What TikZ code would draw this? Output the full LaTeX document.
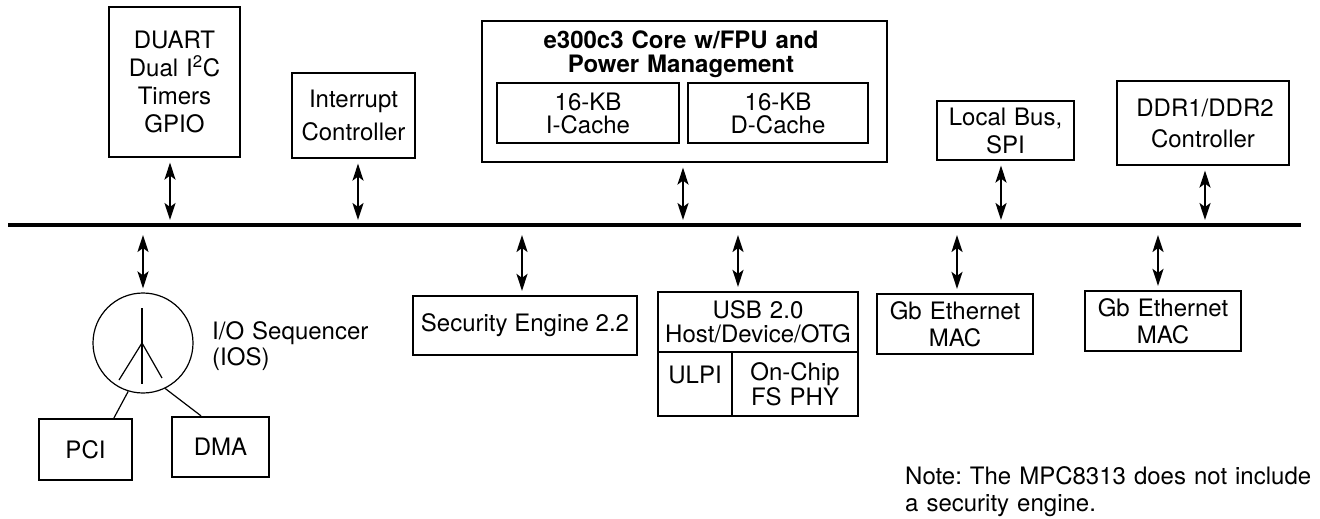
\documentclass[tikz,border=0pt]{standalone}
\usepackage{fontspec}
\setmainfont{TeX Gyre Heros}
\usetikzlibrary{arrows.meta}
\frenchspacing

\tikzset{
  blk/.style={draw, line width=2.2pt, inner sep=0pt, align=center},
  twotip/.style={{Stealth[length=17pt, width=11pt, inset=4pt]}-{Stealth[length=17pt, width=11pt, inset=4pt]}},
  uplink/.style={twotip, line width=2.2pt, shorten <=4.5pt, shorten >=5pt},
  downlink/.style={twotip, line width=2.2pt, shorten <=10pt, shorten >=4pt},
  thin/.style={line width=1.2pt}
}

\begin{document}
\begin{tikzpicture}[x=1pt, y=-1pt, font=\fontsize{24}{27}\selectfont]
  \useasboundingbox (0,0) rectangle (1320,519);

  % system bus
  \coordinate (busL) at (8,225);
  \coordinate (busR) at (1301,225);
  \draw[line width=4.8pt] (busL) -- (busR);

  % blocks above the bus
  \node[blk, minimum width=131pt, minimum height=150pt, text width=131pt,
    font=\fontsize{24}{28}\selectfont] (duart) at (174.5,82)
    {DUART\\Dual I\textsuperscript{2}C\\Timers\\GPIO};
  \node[blk, minimum width=123pt, minimum height=85pt, text width=123pt,
    font=\fontsize{24}{33}\selectfont] (intr) at (353.5,115.5)
    {Interrupt\\Controller};

  \node[blk, minimum width=405pt, minimum height=141pt] (core) at (684.5,91.5) {};
  \node[align=center, inner sep=0pt, text width=400pt,
    font=\fontsize{24}{23.5}\selectfont\bfseries]
    (coretitle) at (681,54) {e300c3 Core w/FPU and\\Power Management};
  \node[blk, minimum width=182pt, minimum height=60pt, text width=182pt,
    font=\fontsize{24}{23}\selectfont] (icache) at (588,113) {16-KB\\I-Cache};
  \node[blk, minimum width=180pt, minimum height=60pt, text width=180pt,
    font=\fontsize{24}{23}\selectfont] (dcache) at (778,113) {16-KB\\D-Cache};

  \node[blk, minimum width=137pt, minimum height=59pt, text width=137pt,
    font=\fontsize{24}{28}\selectfont] (lbus) at (1005.5,130.5) {Local Bus,\\SPI};
  \node[blk, minimum width=172pt, minimum height=84pt, text width=172pt,
    font=\fontsize{24}{31}\selectfont] (ddr) at (1203,123) {\,DDR1/DDR2\\Controller};

  \draw[uplink] ([xshift=-4.5pt]duart.south) -- ([xshift=-4.5pt]duart.south |- busL);
  \draw[uplink] ([xshift=4.5pt]intr.south) -- ([xshift=4.5pt]intr.south |- busL);
  \draw[uplink] ([xshift=-1.5pt]core.south) -- ([xshift=-1.5pt]core.south |- busL);
  \draw[uplink] ([xshift=-4.5pt]lbus.south) -- ([xshift=-4.5pt]lbus.south |- busL);
  \draw[uplink] ([xshift=2pt]ddr.south) -- ([xshift=2pt]ddr.south |- busL);

  % I/O sequencer
  \node[circle, draw, line width=1.2pt, minimum size=100pt, inner sep=0pt] (ios) at (143,343) {};
  \draw[line width=2pt] (ios.center) ++(-1,-35) -- ++(0,76);
  \draw[thin] (ios.center) ++(-1,0) -- ++(-23,37);
  \draw[thin] (ios.center) ++(-1,0) -- ++(20,35);
  \node[anchor=west, align=left, inner sep=0pt, text width=180pt,
    font=\fontsize{24}{26}\selectfont] (ioslabel) at (212,346) {I/O Sequencer\\(IOS)};

  \node[blk, minimum width=93pt, minimum height=61pt] (pci) at (85.5,449.5) {PCI};
  \node[blk, minimum width=97pt, minimum height=60pt] (dma) at (220.5,447) {DMA};
  \draw[thin] (ios.253) -- (pci.48);
  \draw[thin] (ios.296) -- (dma.122);

  % blocks below the bus
  \node[blk, minimum width=224pt, minimum height=59pt] (sec) at (525,325.5) {Security Engine 2.2};

  \node[blk, minimum width=200pt, minimum height=60pt, text width=200pt,
    font=\fontsize{24}{23.5}\selectfont] (usb) at (758,322) {USB 2.0\\Host/Device/OTG};
  \node[blk, minimum width=74pt, minimum height=64pt, text depth=19pt] (ulpi) at (695,384) {ULPI};
  \node[blk, minimum width=126pt, minimum height=64pt, text width=126pt,
    font=\fontsize{24}{25}\selectfont] (phy) at (795,384) {On-Chip\\FS PHY};

  \node[blk, minimum width=156pt, minimum height=60pt, text width=156pt,
    font=\fontsize{24}{27}\selectfont] (gbe1) at (955,324) {Gb Ethernet\\MAC};
  \node[blk, minimum width=156pt, minimum height=60pt, text width=156pt,
    font=\fontsize{24}{27}\selectfont] (gbe2) at (1163,321) {Gb Ethernet\\MAC};

  \draw[downlink] (ios.north |- busL) -- (ios.north);
  \draw[downlink] ([xshift=-3pt]sec.north |- busL) -- ([xshift=-3pt]sec.north);
  \draw[downlink] ([xshift=-20pt]usb.north |- busL) -- ([xshift=-20pt]usb.north);
  \draw[downlink] ([xshift=2pt]gbe1.north |- busL) -- ([xshift=2pt]gbe1.north);
  \draw[downlink] ([xshift=-5pt]gbe2.north |- busL) -- ([xshift=-5pt]gbe2.north);

  % note
  \node[anchor=west, align=left, inner sep=0pt, text width=420pt,
    font=\fontsize{24}{27}\selectfont] (note) at (905,491.5)
    {Note: The MPC8313 does not include\\a security engine.};

\end{tikzpicture}
\end{document}
